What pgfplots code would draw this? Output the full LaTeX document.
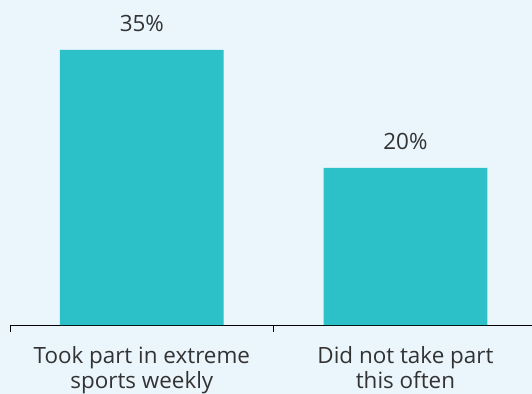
\documentclass[border=0pt]{standalone}
\usepackage{pgfplots}
\pgfplotsset{compat=1.18}
\usepackage{fontspec}
\setmainfont{Open Sans}
\definecolor{bg}{HTML}{EAF6FC}
\definecolor{bar}{HTML}{2CC0C9}
\definecolor{txt}{HTML}{333333}
\begin{document}
\begin{tikzpicture}
\useasboundingbox (0,0) rectangle (532bp,394bp);
\fill[bg] (0,0) rectangle (532bp,394bp);
\begin{axis}[
  at={(10bp,69bp)}, anchor=south west,
  scale only axis, width=522bp, height=325bp,
  xmin=-0.5, xmax=1.48, ymin=0, ymax=41.36,
  axis x line=bottom, axis y line=none,
  axis line style={-, black, line width=1pt},
  xtick={0,1},
  xticklabels={{Took part in extreme\\sports weekly},{Did not take part\\this often}},
  xticklabel style={align=center, font=\fontsize{22.5}{25}\selectfont, text=txt, inner sep=0pt, yshift=-21bp},
  major tick length=0pt,
  extra x ticks={-0.5,0.5},
  extra x tick labels={},
  extra x tick style={major tick length=7bp, tick align=outside, tick style={black, line width=1pt}},
  ytick=\empty,
  ybar, bar width=0.621,
  nodes near coords={\pgfmathprintnumber[assume math mode=true]{\pgfplotspointmeta}\%},
  every node near coord/.append style={font=\fontsize{22.5}{25}\selectfont, text=txt, inner sep=0pt, yshift=18bp},
  clip=false,
]
\addplot[fill=bar, draw=none] coordinates {(0,35) (1,20)};
\end{axis}
\end{tikzpicture}
\end{document}
